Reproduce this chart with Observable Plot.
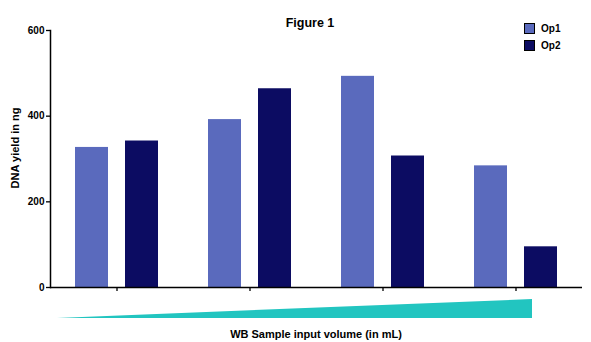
<!DOCTYPE html>
<html>
<head>
<meta charset="utf-8">
<script src="https://cdn.jsdelivr.net/npm/d3@7"></script>
<script src="https://cdn.jsdelivr.net/npm/@observablehq/plot@0.6"></script>
<style>
  html, body { margin: 0; padding: 0; background: #fff; }
  body { font-family: "Liberation Sans", Arial, sans-serif; }
  #wrap { position: relative; width: 591px; height: 342px; overflow: hidden; }
  #main { position: absolute; left: 0; top: 0; }
  #wedge { position: absolute; left: 0; top: 296px; }
  .t { position: absolute; font-weight: bold; color: #000; white-space: nowrap; }
  #title { left: 310px; top: 16px; transform: translateX(-50%); font-size: 12.5px; }
  #xlabel { left: 316px; top: 328px; transform: translateX(-50%); font-size: 11px; }
  #ylabel { left: 15px; top: 148px; transform: translate(-50%, -50%) rotate(-90deg); font-size: 11px; }
  #legend { position: absolute; left: 524px; top: 20px; font-size: 10px; font-weight: bold; }
  .li { display: flex; align-items: center; height: 17px; }
  .sw { width: 9px; height: 9px; border: 1px solid #000; margin-right: 6px; }
</style>
</head>
<body>
<div id="wrap">
  <div id="main"></div>
  <div id="wedge"></div>
  <div class="t" id="title">Figure 1</div>
  <div class="t" id="ylabel">DNA yield in ng</div>
  <div class="t" id="xlabel">WB Sample input volume (in mL)</div>
  <div id="legend"></div>
</div>
<script>
const groups = ["V1", "V2", "V3", "V4"];
const series = ["Op1", "Op2"];
const op1 = [327, 392, 493, 284];
const op2 = [342, 464, 307, 95];
const yTicks = [0, 200, 400, 600];
const colors = ["#5A6ABD", "#0C0C62"];
const wedgeVolume = [0, 1];
const wedgeHeight = [0, 1];

const data = groups.flatMap((g, i) => [
  {group: g, series: series[0], value: op1[i]},
  {group: g, series: series[1], value: op2[i]}
]);

const main = Plot.plot({
  width: 591,
  height: 300,
  marginLeft: 50,
  marginRight: 9,
  marginTop: 30,
  marginBottom: 13,
  style: {fontFamily: "'Liberation Sans', Arial, sans-serif", fontSize: "10px", fontWeight: "bold", background: "white"},
  fx: {domain: groups, padding: 0, label: null},
  x: {domain: series, paddingInner: 0.34, paddingOuter: 0.5, axis: null},
  y: {domain: [0, 600], label: null},
  color: {domain: series, range: colors},
  marks: [
    Plot.barY(data, {fx: "group", x: "series", y: "value", fill: "series"}),
    Plot.axisY({ticks: yTicks, tickSize: 4, tickPadding: 2, label: null, stroke: "#000", strokeWidth: 1.3}),
    Plot.frame({anchor: "left", facet: "super", stroke: "#000", strokeWidth: 1.5}),
    Plot.axisFx({anchor: "bottom", tickSize: 4, tickFormat: () => "", label: null, stroke: "#000", strokeWidth: 1.3}),
    Plot.ruleY([0], {stroke: "#000", strokeWidth: 1.5})
  ]
});
document.getElementById("main").appendChild(main);

const wedgeData = wedgeVolume.map((v, i) => ({v, h: wedgeHeight[i]}));
const wedge = Plot.plot({
  width: 591,
  height: 24,
  marginLeft: 57,
  marginRight: 59,
  marginTop: 3,
  marginBottom: 2,
  x: {domain: [0, 1], axis: null},
  y: {domain: [0, 1], axis: null},
  marks: [
    Plot.areaY(wedgeData, {x: "v", y: "h", fill: "#22C5C0"})
  ]
});
document.getElementById("wedge").appendChild(wedge);

const legend = document.getElementById("legend");
series.forEach((s, i) => {
  const row = document.createElement("div");
  row.className = "li";
  const sw = document.createElement("div");
  sw.className = "sw";
  sw.style.background = colors[i];
  const lab = document.createElement("span");
  lab.textContent = s;
  row.appendChild(sw);
  row.appendChild(lab);
  legend.appendChild(row);
});
</script>
</body>
</html>
